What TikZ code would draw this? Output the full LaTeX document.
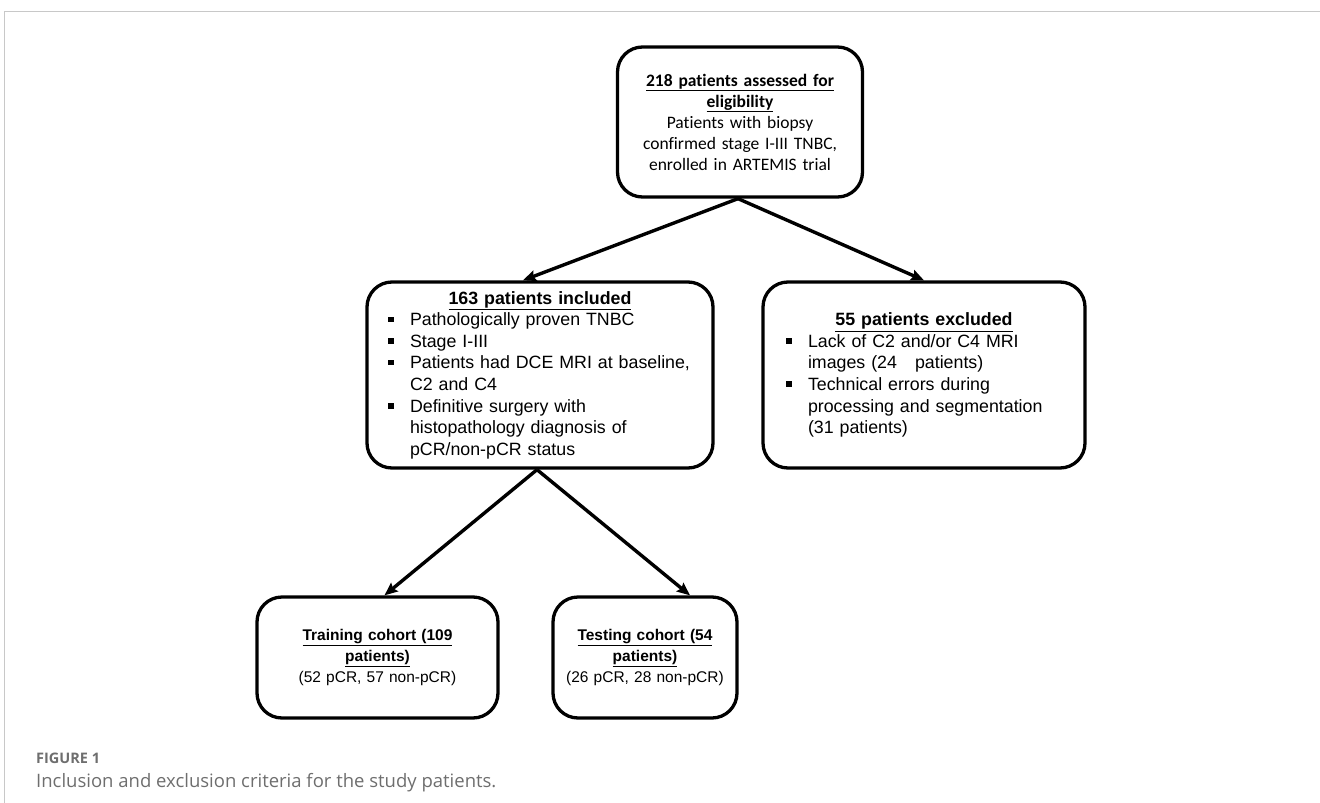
\documentclass[tikz,border=0pt]{standalone}
\usepackage{fontspec}
\setmainfont{Liberation Sans}
\newfontfamily\calfont[Ligatures=NoCommon]{Carlito}
\newfontfamily\capfont{Open Sans}
\usepackage{tikz}
\usetikzlibrary{arrows.meta}
\definecolor{framegray}{RGB}{200,200,200}
\definecolor{capgray}{RGB}{110,110,110}
\newcommand{\sqbullet}{\makebox[26pt][l]{\hspace{4pt}\raisebox{3.5pt}{\rule{5.5pt}{5.5pt}}}}
\newcommand{\bitem}[1]{\par\noindent\hangindent=26pt\hangafter=1\sqbullet#1\par}
\newcommand{\head}[1]{\textbf{\underline{#1}}}

\begin{document}
\begin{tikzpicture}[x=1pt, y=-1pt,
    cbox/.style={draw, line width=3.3pt, rounded corners=25pt, inner sep=0pt},
    link/.style={-{Stealth[length=13pt,width=11pt,inset=2pt]}, line width=3.4pt},
    bigtxt/.style={font=\fontsize{17.8}{21.6}\selectfont},
    smalltxt/.style={font=\fontsize{15.5}{21}\selectfont}]
  \useasboundingbox (0,0) rectangle (1320,803);
  \draw[framegray, line width=1pt] (4,803) -- (4,11.5) -- (1320,11.5);

  % boxes
  \node[cbox, minimum width=245, minimum height=150, text width=225, align=center,
        font=\calfont\fontsize{17.5}{21}\selectfont] (assess) at (740,122)
        {\head{218 patients assessed for}\\ \head{eligibility}\\ Patients with biopsy\\
         confirmed stage I-III TNBC,\\ enrolled in ARTEMIS trial};
  \node[cbox, bigtxt, minimum width=346, minimum height=186, text width=312, align=left] (incl) at (540,375)
        {{\centering\head{163 patients included}\par}%
         \bitem{Pathologically proven TNBC}%
         \bitem{Stage I-III}%
         \bitem{Patients had DCE MRI at baseline,\newline C2 and C4}%
         \bitem{Definitive surgery with\newline histopathology diagnosis of\newline pCR/non-pCR status}};
  \node[cbox, bigtxt, minimum width=322, minimum height=186, text width=284, align=left] (excl) at (924,375)
        {{\centering\head{55 patients excluded}\par}%
         \bitem{Lack of C2 and/or C4 MRI\newline images (24\hspace{18pt}patients)}%
         \bitem{Technical errors during\newline processing and segmentation\newline (31 patients)}};
  \node[cbox, smalltxt, minimum width=241, minimum height=121, text width=225, align=center] (train) at (377.5,657.5)
        {\head{Training cohort (109}\\ \head{patients)}\\ (52 pCR, 57 non-pCR)};
  \node[cbox, smalltxt, minimum width=184, minimum height=121, text width=175, align=center] (test) at (645,657.5)
        {\head{Testing cohort (54}\\ \head{patients)}\\ (26 pCR, 28 non-pCR)};

  % arrows
  \draw[link] ([xshift=-2pt]assess.south) -- ([xshift=-17pt]incl.north);
  \draw[link] ([xshift=-2pt]assess.south) -- (excl.north);
  \draw[link] ([xshift=-3pt]incl.south) -- ([xshift=7pt]train.north);
  \draw[link] ([xshift=-3pt]incl.south) -- ([xshift=45pt]test.north);

  % caption
  \node[anchor=base west, inner sep=0pt, text=capgray, font=\capfont\bfseries\fontsize{14.5}{17}\selectfont] (fignum) at (36,763) {FIGURE 1};
  \node[anchor=base west, inner sep=0pt, text=capgray, font=\capfont\fontsize{18.5}{22}\selectfont] (figcap) at (36,787) {Inclusion and exclusion criteria for the study patients.};
\end{tikzpicture}
\end{document}
